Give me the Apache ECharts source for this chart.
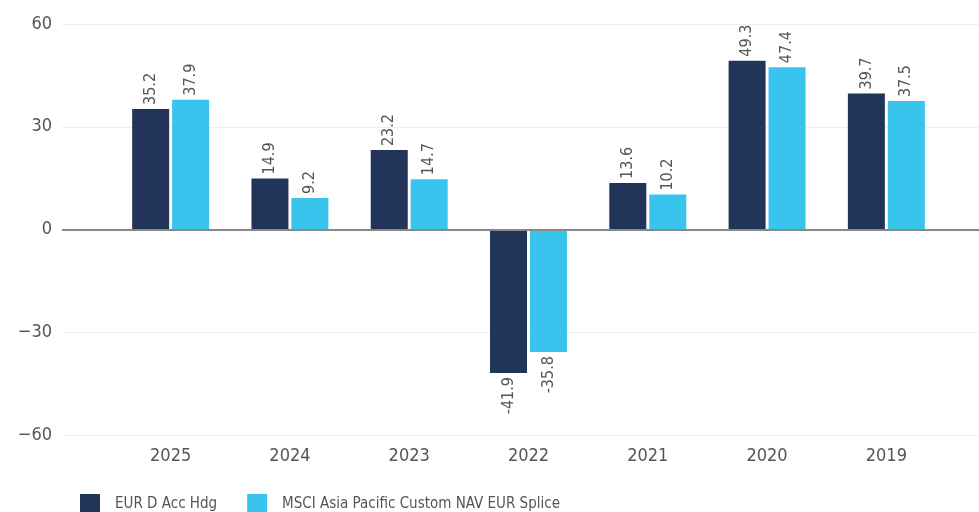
<!DOCTYPE html>
<html>
<head>
<meta charset="utf-8">
<script src="https://cdn.jsdelivr.net/npm/echarts@6/dist/echarts.min.js"></script>
<style>
  html, body { margin: 0; padding: 0; background: #fff; }
  #chart { width: 979px; height: 512px; }
</style>
</head>
<body>
<div id="chart"></div>
<script>
const years = ['2025', '2024', '2023', '2022', '2021', '2020', '2019']
const fundName = 'EUR D Acc Hdg'
const indexName = 'MSCI Asia Pacific Custom NAV EUR Splice'
const fundValues = [35.2, 14.9, 23.2, -41.9, 13.6, 49.3, 39.7]
const indexValues = [37.9, 9.2, 14.7, -35.8, 10.2, 47.4, 37.5]
const yTicks = [-60, -30, 0, 30, 60]

// pick the first installed face out of a list of narrow ones
function pickFont(list) {
  const ctx = document.createElement('canvas').getContext('2d')
  const sample = 'MSCI Asia Pacific 0123456789'
  const width = f => { ctx.font = '16px ' + f; return ctx.measureText(sample).width }
  for (const f of list) {
    if (width(f + ', monospace') !== width('monospace') || width(f + ', serif') !== width('serif')) {
      if (width(f + ', monospace') === width(f + ', serif')) return f
    }
  }
  return 'sans-serif'
}
const font = pickFont(['"Liberation Sans Narrow"', '"DejaVu Sans Condensed"', '"Roboto Condensed"', 'Roboto'])
const textColor = '#555'

const chart = echarts.init(document.getElementById('chart'))

// rotated value labels: above positive bars, below negative ones
function labelled(values) {
  return values.map(v => ({
    value: v,
    label: {
      show: true,
      position: v >= 0 ? 'top' : 'bottom',
      rotate: 90,
      align: v >= 0 ? 'left' : 'right',
      verticalAlign: 'middle',
      distance: 4,
      fontFamily: font,
      fontSize: 16,
      color: textColor,
      formatter: p => p.value.toFixed(1)
    }
  }))
}

chart.setOption({
  animation: false,
  legend: {
    left: 75,
    top: 489,
    itemWidth: 20,
    itemHeight: 20,
    itemGap: 30,
    icon: 'rect',
    textStyle: { fontFamily: font, fontSize: 15, color: textColor, padding: [0, 0, 0, 10] },
    data: [fundName, indexName]
  },
  grid: [
    // gridlines and y labels
    { left: 62, right: 0, top: 24, bottom: 77 },
    // bars
    { left: 111, width: 835, top: 24, bottom: 77 }
  ],
  xAxis: [
    { gridIndex: 0, type: 'value', show: false },
    {
      gridIndex: 1,
      type: 'category',
      data: years,
      axisLine: { show: false },
      axisTick: { show: false },
      axisLabel: { fontFamily: font, fontSize: 18, color: textColor, margin: 12 }
    }
  ],
  yAxis: [
    {
      gridIndex: 0,
      type: 'value',
      min: yTicks[0],
      max: yTicks[yTicks.length - 1],
      interval: 30,
      axisLine: { show: false },
      axisTick: { show: false },
      axisLabel: {
        fontFamily: font,
        fontSize: 18,
        color: textColor,
        margin: 10,
        formatter: v => String(v).replace('-', '\u2212')
      },
      splitLine: { lineStyle: { color: '#eeeeee', width: 1 } }
    },
    {
      gridIndex: 1,
      type: 'value',
      min: yTicks[0],
      max: yTicks[yTicks.length - 1],
      interval: 30,
      show: false,
      splitLine: { show: false }
    }
  ],
  series: [
    {
      name: fundName,
      type: 'bar',
      xAxisIndex: 1,
      yAxisIndex: 1,
      data: labelled(fundValues),
      barWidth: 37,
      barGap: '8%',
      itemStyle: { color: '#22345a' }
    },
    {
      name: indexName,
      type: 'bar',
      xAxisIndex: 1,
      yAxisIndex: 1,
      data: labelled(indexValues),
      barWidth: 37,
      itemStyle: { color: '#38c4ed' }
    },
    {
      // zero line across the full width
      type: 'line',
      xAxisIndex: 0,
      yAxisIndex: 0,
      data: [],
      markLine: {
        silent: true,
        symbol: 'none',
        label: { show: false },
        lineStyle: { color: '#888', width: 2, type: 'solid' },
        data: [{ yAxis: 0 }]
      }
    }
  ]
})
</script>
</body>
</html>
